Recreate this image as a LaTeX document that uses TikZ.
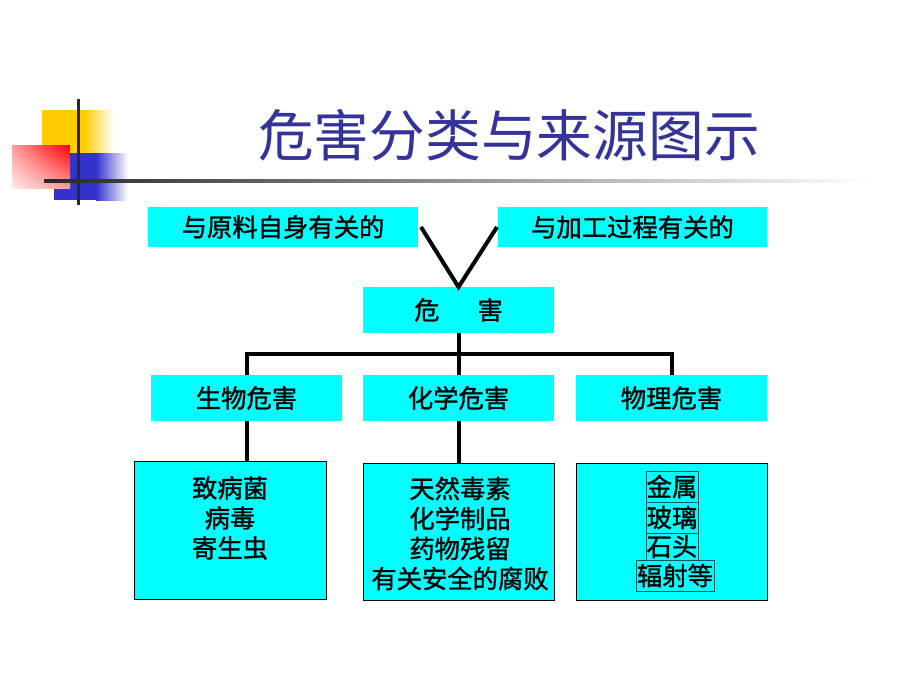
\documentclass[tikz,border=0pt]{standalone}
\usepackage{fontspec}
\usetikzlibrary{shadings}
\newfontfamily\cjk{Noto Sans CJK SC}
\newfontfamily\cjkm[FakeBold=1.2]{Noto Sans CJK SC}
\definecolor{boxcyan}{RGB}{0,255,255}
\definecolor{titleblue}{RGB}{51,51,153}
\definecolor{logoyellow}{RGB}{255,204,0}
\definecolor{logoblue}{RGB}{51,51,204}
\definecolor{logored}{RGB}{255,0,0}
\definecolor{cellline}{RGB}{0,90,90}
\definecolor{linedark}{RGB}{40,40,40}
\tikzset{
  cbox/.style={fill=boxcyan, inner sep=0pt, outer sep=0pt,
    font={\cjkm\fontsize{19}{22.5}\selectfont}},
  framebox/.style={cbox, draw=black, line width=0.75pt},
  txt/.style={inner sep=0pt, outer sep=0pt, align=center,
    font={\cjkm\fontsize{19}{22.5}\selectfont}},
  cell/.style={draw=cellline, line width=0.6pt, inner sep=0pt, outer sep=0pt,
    font={\cjkm\fontsize{19}{22.5}\selectfont}},
  conn/.style={draw=black, line width=3pt, line join=miter},
}
\begin{document}
\begin{tikzpicture}[x=0.75pt,y=-0.75pt]
\useasboundingbox (0,0) rectangle (920,690);
\fill[white] (0,0) rectangle (920,690);

% logo
\fill[logoyellow] (42,110) rectangle (84,153);
\shade[left color=logoyellow, right color=white] (84,110) rectangle (114,153);
\fill[logoblue] (54,153) rectangle (96,200);
\shade[left color=logoblue, right color=white] (96,153) rectangle (128,200);
\shade[upper right=logored, upper left=logored!40!white, lower right=logored!40!white, lower left=logored!8!white] (12,145) rectangle (70,188);
\fill[linedark] (76.5,99) rectangle (79.5,205);
\shade[left color=linedark, middle color=black!50, right color=white] (44,179.5) rectangle (870,182.5);

% title
\node[text=titleblue, font={\cjk\fontsize{41.8}{48}\selectfont}, inner sep=0pt] (title) at (509,135) {危害分类与来源图示};

% top boxes
\node[cbox, minimum width=202.5pt, minimum height=30pt] (A) at (283,227) {与原料自身有关的};
\node[cbox, minimum width=201.75pt, minimum height=30pt] (B) at (632.5,227) {与加工过程有关的};
\node[cbox, minimum width=143.25pt, minimum height=34.5pt] (C) at (458.5,310) {危\hspace{1.5em}害};

% second row
\node[cbox, minimum width=143.25pt, minimum height=34.5pt] (D) at (246.5,398) {生物危害};
\node[cbox, minimum width=143.25pt, minimum height=34.5pt] (E) at (458.5,398) {化学危害};
\node[cbox, minimum width=143.25pt, minimum height=34.5pt] (F) at (671.5,398) {物理危害};

% bottom boxes
\node[framebox, minimum width=144pt, minimum height=103.5pt] (G) at (230,530) {};
\node[framebox, minimum width=143.25pt, minimum height=102.75pt] (H) at (458.5,531.5) {};
\node[framebox, minimum width=143.25pt, minimum height=102.75pt] (I) at (671.5,531.5) {};

\node[txt] (Gt) at (230,518) {致病菌\\病毒\\寄生虫};
\node[txt] (Ht) at (460,533.5) {天然毒素\\化学制品\\药物残留\\有关安全的腐败};

\node[cell, minimum width=39pt, minimum height=23.25pt] (c1) at (672,486.5) {金属};
\node[cell, minimum width=39pt, minimum height=23.25pt] (c2) at (672,517.5) {玻璃};
\node[cell, minimum width=39pt, minimum height=20.25pt] (c3) at (672,546.5) {石头};
\node[cell, minimum width=58.5pt, minimum height=23.25pt] (c4) at (675,575.5) {辐射等};

% connectors
\coordinate (bar) at (458.5,354);
\draw[conn] ([xshift=2.25pt]A.east) -- (C.north) -- ([xshift=-0.75pt]B.west);
\draw[conn] (C.south) -- (E.north);
\draw[conn] (D.north) |- (bar) -| (F.north);
\draw[conn] (D.south) -- (D.south |- G.north);
\draw[conn] (E.south) -- (H.north);
\end{tikzpicture}
\end{document}
